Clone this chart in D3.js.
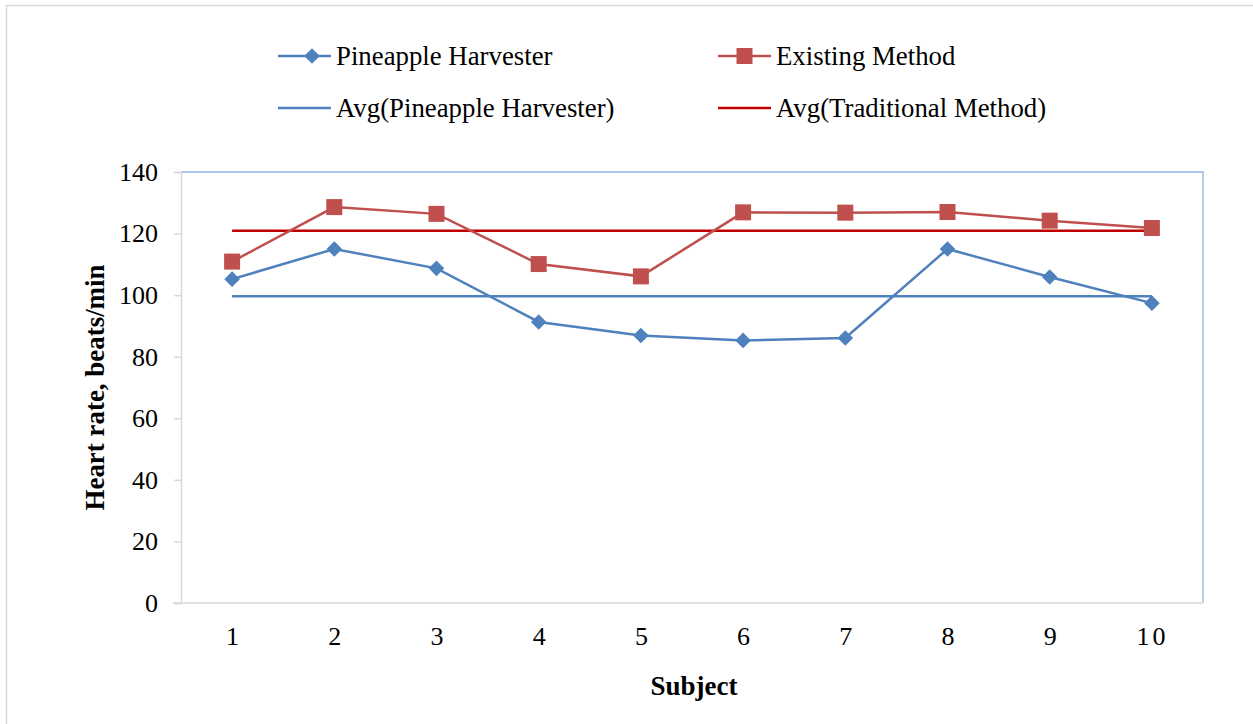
<!DOCTYPE html>
<html>
<head>
<meta charset="utf-8">
<script src="https://cdn.jsdelivr.net/npm/d3@7"></script>
<style>
  html, body { margin: 0; padding: 0; background: #fff; }
  svg { display: block; font-family: "Liberation Serif", "Times New Roman", serif; }
</style>
</head>
<body>
<svg id="chart" width="1253" height="724"></svg>
<script>
// Heart rate per subject for the two harvesting methods
const subjects = [1, 2, 3, 4, 5, 6, 7, 8, 9, 10];
const pineappleHarvester = [105.2, 115.0, 108.7, 91.3, 86.9, 85.3, 86.1, 115.0, 105.9, 97.4];
const existingMethod = [110.9, 128.6, 126.4, 110.1, 106.1, 126.9, 126.8, 127.0, 124.2, 121.8];
const yTicks = [0, 20, 40, 60, 80, 100, 120, 140];

const legendLabels = {
  harvester: "Pineapple Harvester",
  existing: "Existing Method",
  avgHarvester: "Avg(Pineapple Harvester)",
  avgTraditional: "Avg(Traditional Method)"
};

const BLUE = "#4F81BD";
const RED = "#C0504D";
const DARK_RED = "#C00000";
const AXIS_GREY = "#D9D9D9";
const FRAME_BLUE = "#8EB4E3";
const FONT = "Liberation Serif, Times New Roman, serif";
const LABEL_SIZE = 26;
const LEGEND_SIZE = 26.8;

const svg = d3.select("#chart");

// outer chart frame
svg.append("rect")
  .attr("x", 6.5).attr("y", 5.5)
  .attr("width", 1260).attr("height", 730)
  .attr("fill", "#fff").attr("stroke", AXIS_GREY).attr("stroke-width", 1.5);

const plot = { left: 181, right: 1203, top: 172, bottom: 603 };

const x = d3.scalePoint()
  .domain(subjects)
  .range([plot.left, plot.right])
  .padding(0.5);

const y = d3.scaleLinear()
  .domain([0, 140])
  .range([plot.bottom, plot.top]);

// plot-area border (top and right)
svg.append("path")
  .attr("d", `M${plot.left},${plot.top}H${plot.right}V${plot.bottom}`)
  .attr("fill", "none").attr("stroke", FRAME_BLUE).attr("stroke-width", 1.3);

// y axis
const yAxis = svg.append("g")
  .attr("transform", `translate(${plot.left},0)`)
  .call(d3.axisLeft(y).tickValues(yTicks).tickSize(7).tickPadding(16).tickFormat(d3.format("d")));
yAxis.select(".domain").attr("stroke", AXIS_GREY).attr("stroke-width", 1.5);
yAxis.selectAll(".tick line").attr("stroke", AXIS_GREY).attr("stroke-width", 1.5);
yAxis.selectAll(".tick text")
  .attr("font-size", LABEL_SIZE).attr("fill", "#000")
  .attr("font-family", FONT);

// x axis
const xAxis = svg.append("g")
  .attr("transform", `translate(0,${plot.bottom})`)
  .call(d3.axisBottom(x).tickSize(0).tickPadding(24));
xAxis.select(".domain").attr("d", `M${plot.left - 8},0H${plot.right}`)
  .attr("stroke", AXIS_GREY).attr("stroke-width", 1.5);
xAxis.selectAll(".tick text")
  .attr("font-size", LABEL_SIZE).attr("fill", "#000")
  .attr("font-family", FONT)
  .attr("letter-spacing", d => d === 10 ? 3 : 0);

// axis titles
svg.append("text")
  .attr("transform", `translate(104,${(plot.top + plot.bottom) / 2}) rotate(-90)`)
  .attr("text-anchor", "middle")
  .attr("font-size", 27).attr("font-weight", "bold")
  .attr("textLength", 246).attr("lengthAdjust", "spacingAndGlyphs")
  .text("Heart rate, beats/min");

svg.append("text")
  .attr("x", 694).attr("y", 695)
  .attr("text-anchor", "middle")
  .attr("font-size", 27).attr("font-weight", "bold")
  .text("Subject");

// average reference lines
const avgHarvester = d3.mean(pineappleHarvester);
const avgExisting = d3.mean(existingMethod);
const first = subjects[0], last = subjects[subjects.length - 1];

svg.append("line")
  .attr("x1", x(first)).attr("x2", x(last))
  .attr("y1", y(avgHarvester)).attr("y2", y(avgHarvester))
  .attr("stroke", BLUE).attr("stroke-width", 2.5);

svg.append("line")
  .attr("x1", x(first)).attr("x2", x(last))
  .attr("y1", y(avgExisting)).attr("y2", y(avgExisting))
  .attr("stroke", DARK_RED).attr("stroke-width", 2.5);

const line = d3.line().x((d, i) => x(subjects[i])).y(d => y(d));

// Existing Method series
svg.append("path")
  .datum(existingMethod)
  .attr("d", line)
  .attr("fill", "none").attr("stroke", RED).attr("stroke-width", 2.5);

svg.append("g").selectAll("rect")
  .data(existingMethod)
  .join("rect")
  .attr("x", (d, i) => x(subjects[i]) - 8)
  .attr("y", d => y(d) - 8)
  .attr("width", 16).attr("height", 16)
  .attr("fill", RED);

// Pineapple Harvester series
svg.append("path")
  .datum(pineappleHarvester)
  .attr("d", line)
  .attr("fill", "none").attr("stroke", BLUE).attr("stroke-width", 2.5);

const diamond = d3.symbol().type(d3.symbolSquare).size(121);
svg.append("g").selectAll("path")
  .data(pineappleHarvester)
  .join("path")
  .attr("transform", (d, i) => `translate(${x(subjects[i])},${y(d)}) rotate(45)`)
  .attr("d", diamond)
  .attr("fill", BLUE);

// legend
const legendItems = [
  { label: legendLabels.harvester, color: BLUE, marker: "diamond", lx: 278, ly: 56 },
  { label: legendLabels.existing, color: RED, marker: "square", lx: 718, ly: 56 },
  { label: legendLabels.avgHarvester, color: BLUE, marker: null, lx: 278, ly: 108 },
  { label: legendLabels.avgTraditional, color: DARK_RED, marker: null, lx: 718, ly: 108 }
];

const legend = svg.append("g").selectAll("g")
  .data(legendItems)
  .join("g")
  .attr("transform", d => `translate(${d.lx},${d.ly})`);

legend.append("line")
  .attr("x1", 0).attr("x2", 53)
  .attr("stroke", d => d.color).attr("stroke-width", 2.5);

legend.filter(d => d.marker === "square").append("rect")
  .attr("x", 26.5 - 8).attr("y", -8)
  .attr("width", 16).attr("height", 16)
  .attr("fill", d => d.color);

legend.filter(d => d.marker === "diamond").append("path")
  .attr("transform", "translate(34,0) rotate(45)")
  .attr("d", diamond)
  .attr("fill", d => d.color);

legend.append("text")
  .attr("x", 58).attr("y", 0).attr("dy", "0.33em")
  .attr("font-size", LEGEND_SIZE)
  .text(d => d.label);
</script>
</body>
</html>
